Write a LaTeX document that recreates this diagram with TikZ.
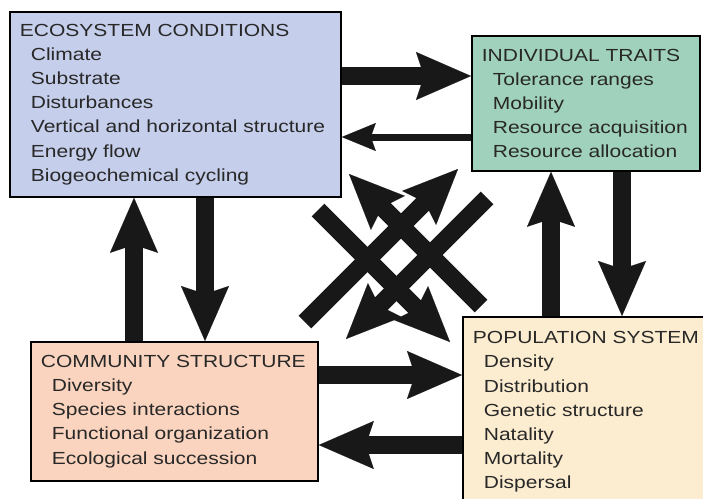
\documentclass[tikz,border=0pt]{standalone}
\usepackage{fontspec}
\setmainfont{Liberation Sans}[FakeStretch=1.2]
\usetikzlibrary{arrows.meta}

\definecolor{ecoblue}{RGB}{197,206,234}
\definecolor{indgreen}{RGB}{160,209,188}
\definecolor{comsalmon}{RGB}{250,212,190}
\definecolor{popcream}{RGB}{253,237,208}
\definecolor{ink}{RGB}{24,24,24}
\definecolor{txt}{RGB}{40,40,40}

\tikzset{
  box/.style={draw=black, line width=1.8pt, anchor=north west, align=left,
    inner xsep=10pt, inner ysep=0pt, text=txt,
    font=\fontsize{17.5}{24.2}\selectfont},
  fat/.style={line width=18pt, draw=ink,
    -{Stealth[length=55pt,width=48pt,inset=8pt,line width=0.1pt]}},
  slim/.style={line width=7pt, draw=ink,
    -{Stealth[length=34pt,width=28pt,inset=5pt,line width=0.1pt]}},
}
\newcommand{\itm}[1]{\\\hspace*{11pt}#1}

\begin{document}
\begin{tikzpicture}[x=1pt,y=-1pt]
\useasboundingbox (0,0) rectangle (703,498);
\clip (0,0) rectangle (703,498);

%the four boxes
\node[box, fill=ecoblue, text width=311pt, minimum width=331pt, minimum height=185pt] (eco) at (9,11)
  {ECOSYSTEM CONDITIONS\itm{Climate}\itm{Substrate}\itm{Disturbances}\itm{Vertical and horizontal structure}\itm{Energy flow}\itm{Biogeochemical cycling}};
\node[box, fill=indgreen, text width=208pt, minimum width=228pt, minimum height=135pt] (ind) at (471,35)
  {INDIVIDUAL TRAITS\itm{Tolerance ranges}\itm{Mobility}\itm{Resource acquisition}\itm{Resource allocation}};
\node[box, fill=comsalmon, text width=267pt, minimum width=287pt, minimum height=139pt] (com) at (30,341)
  {COMMUNITY STRUCTURE\itm{Diversity}\itm{Species interactions}\itm{Functional organization}\itm{Ecological succession}};
\node[box, fill=popcream, text width=240pt, minimum width=260pt, minimum height=190pt] (pop) at (462,316)
  {POPULATION SYSTEM\itm{Density}\itm{Distribution}\itm{Genetic structure}\itm{Natality}\itm{Mortality}\itm{Dispersal}};

%lanes of the straight arrows
\coordinate (eco2ind) at (0,76);
\coordinate (ind2eco) at (0,137);
\coordinate (com2pop) at (0,375);
\coordinate (pop2com) at (0,445);
\coordinate (com2eco) at (134,0);
\coordinate (eco2com) at (205,0);
\coordinate (pop2ind) at (551,0);
\coordinate (ind2pop) at (622,0);

\draw[fat] (eco.east |- eco2ind) -- (ind.west |- eco2ind);
\draw[slim] (ind.west |- ind2eco) -- (eco.east |- ind2eco);
\draw[fat] (com.east |- com2pop) -- (pop.west |- com2pop);
\draw[fat] (pop.west |- pop2com) -- (com.east |- pop2com);
\draw[fat] (com.north -| com2eco) -- (eco.south -| com2eco);
\draw[fat] (eco.south -| eco2com) -- (com.north -| eco2com);
\draw[fat] (pop.north -| pop2ind) -- (ind.south -| pop2ind);
\draw[fat] (ind.south -| ind2pop) -- (pop.north -| ind2pop);

%crossed arrows in the middle
\coordinate (ep-from) at (318,210);
\coordinate (ep-to) at (450,342);
\coordinate (pe-from) at (481,306);
\coordinate (pe-to) at (349,174);
\coordinate (ci-from) at (305,322);
\coordinate (ci-to) at (458,169);
\coordinate (ic-from) at (487,198);
\coordinate (ic-to) at (346,339);

\draw[fat] (ep-from) -- (ep-to);
\draw[fat] (pe-from) -- (pe-to);
\draw[fat] (ci-from) -- (ci-to);
\draw[fat] (ic-from) -- (ic-to);
\end{tikzpicture}
\end{document}
